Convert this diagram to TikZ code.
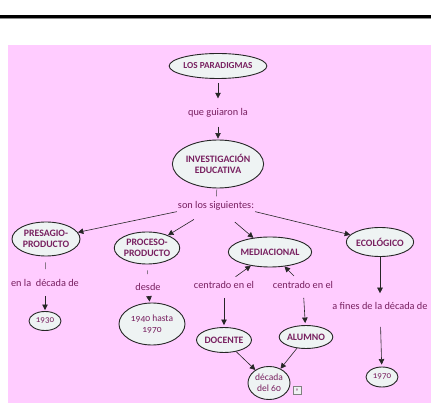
\documentclass[tikz,border=0pt]{standalone}
\usepackage{fontspec}
\setmainfont{Carlito}[Numbers=OldStyle]
\usetikzlibrary{shapes.geometric,arrows.meta}
\definecolor{bgpink}{HTML}{FFCCFF}
\definecolor{ellfill}{HTML}{EEF3F3}
\definecolor{txt}{HTML}{782060}
\tikzset{
  concept/.style={ellipse, draw=black!85, line width=0.9pt, fill=ellfill, text=txt,
    font=\bfseries\fontsize{9.8}{11}\selectfont, align=center, inner sep=0pt},
  linkphrase/.style={text=txt, font=\fontsize{10.3}{11}\selectfont, inner sep=1pt},
  arr/.style={draw=black!85, line width=0.6pt, -{Triangle[length=5.5pt,width=5.5pt]}},
  tick/.style={draw=black!70, line width=0.5pt},
  icon/.style={draw=black!50, fill=ellfill, minimum size=8pt, inner sep=0pt, text=txt,
    font=\fontsize{6}{6}\selectfont}
}
\begin{document}
\begin{tikzpicture}[x=1pt,y=-1pt]
\useasboundingbox (0,0) rectangle (431,403);
\fill[white] (0,0) rectangle (431,403);
\fill[black] (0,15) rectangle (431,18);
\fill[black!45] (0,18) rectangle (431,19.3);
\fill[bgpink] (8,45) rectangle (431,403);

\node[concept, minimum width=90pt, minimum height=25pt, font=\bfseries\fontsize{9.2}{10}\selectfont] (lp) at (218,66) {LOS PARADIGMAS};
\node[linkphrase] (q1) at (218,113) {que guiaron la};
\node[concept, minimum width=89pt, minimum height=48pt] (ie) at (218,164) {INVESTIGACIÓN\\EDUCATIVA};
\node[linkphrase] (sls) at (216,206) {son los siguientes:};
\node[concept, minimum width=68pt, minimum height=34pt] (pp) at (46,239) {PRESAGIO-\\PRODUCTO};
\node[concept, minimum width=60pt, minimum height=32pt] (prp) at (147,248) {PROCESO-\\PRODUCTO};
\node[concept, minimum width=76pt, minimum height=30pt] (med) at (270,252) {MEDIACIONAL};
\node[concept, minimum width=62pt, minimum height=29pt] (eco) at (380,242) {ECOLÓGICO};
\node[linkphrase] (l1) at (45,283) {en la~ década de};
\node[linkphrase] (l2) at (148,287) {desde};
\node[linkphrase] (l3) at (224,285) {centrado en el};
\node[linkphrase] (l4) at (303,285) {centrado en el};
\node[linkphrase] (l5) at (380,306) {a fines de la década de};
\node[concept, minimum width=32pt, minimum height=19pt, font=\fontsize{9}{10}\selectfont] (n1930) at (45,321) {1930};
\node[concept, minimum width=66pt, minimum height=42pt, font=\fontsize{9.5}{11}\selectfont] (n1940) at (152,324) {1940 hasta\\1970};
\node[concept, minimum width=54pt, minimum height=25pt] (doc) at (224,340) {DOCENTE};
\node[concept, minimum width=53pt, minimum height=23pt] (alu) at (306,337) {ALUMNO};
\node[concept, minimum width=42pt, minimum height=33pt, font=\fontsize{9.5}{11}\selectfont] (dec) at (269,383) {década\\del 60};
\node[concept, minimum width=32pt, minimum height=20pt, font=\fontsize{9}{10}\selectfont] (n1970) at (382,377) {1970};
\node[icon] (ic) at (297,390) {»};

\draw[arr, shorten <=4pt, shorten >=9pt] (lp) -- (q1);
\draw[arr, shorten <=8pt, shorten >=1pt] (q1) -- (ie);
\draw[tick, shorten <=1pt, shorten >=4pt] (ie) -- (sls);
\draw[arr] (sls.south west) -- (pp);
\draw[arr, shorten <=15pt] (sls) -- (prp);
\draw[arr, shorten <=16pt] (sls) -- (med);
\draw[arr] (sls.south east) -- (eco);
\draw[tick, shorten <=6pt, shorten >=9pt] (pp) -- (l1);
\draw[arr, shorten <=8pt, shorten >=1pt] (l1) -- (n1930);
\draw[tick, shorten <=6pt, shorten >=8pt] (prp) -- (l2);
\draw[arr, shorten <=5pt, shorten >=1pt] (l2) -- (n1940);
\draw[arr, shorten <=6pt] (l3) -- (med);
\draw[arr, shorten <=6pt] (l4) -- (med);
\draw[arr, shorten <=8pt, shorten >=2pt] (l3) -- (doc);
\draw[arr, shorten <=8pt, shorten >=2pt] (l4) -- (alu);
\draw[arr] (doc) -- (dec);
\draw[arr] (alu) -- (dec);
\draw[arr, shorten >=8pt] (eco) -- (l5);
\draw[arr, shorten <=16pt, shorten >=2pt] (l5) -- (n1970);
\end{tikzpicture}
\end{document}
